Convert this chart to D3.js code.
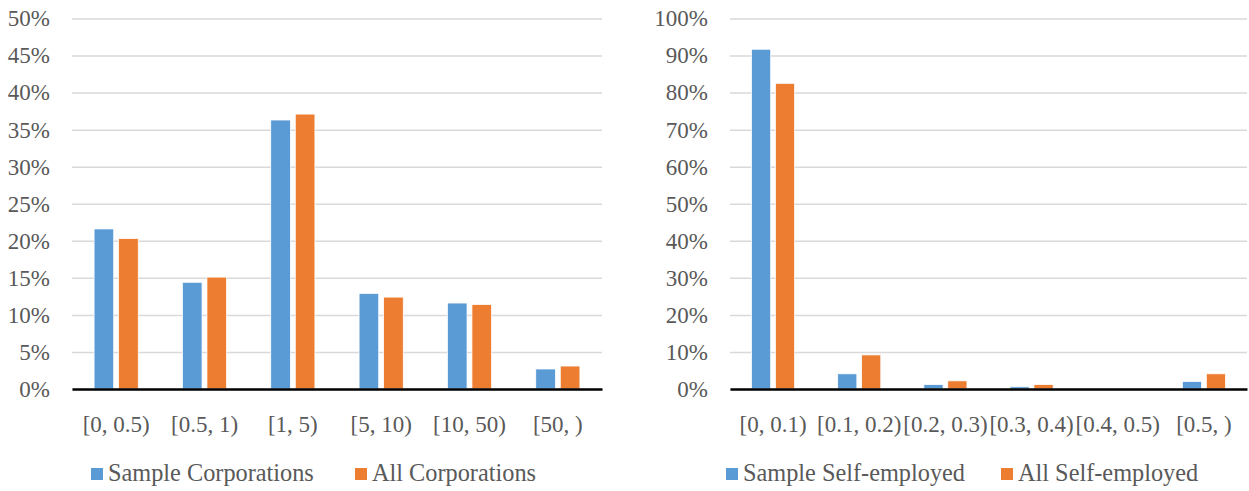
<!DOCTYPE html>
<html>
<head>
<meta charset="utf-8">
<script src="https://cdn.jsdelivr.net/npm/d3@7"></script>
<style>
  body { margin: 0; background: #fff; }
  text { font-family: "Liberation Serif", "DejaVu Serif", serif; fill: #595959; }
</style>
</head>
<body>
<svg id="chart" width="1249" height="491"></svg>
<script>
// Chart data
var corpCategories = ['[0, 0.5)', '[0.5, 1)', '[1, 5)', '[5, 10)', '[10, 50)', '[50, )'];
var sampleCorporations = [21.6, 14.4, 36.3, 12.9, 11.6, 2.7];
var allCorporations = [20.3, 15.1, 37.1, 12.4, 11.4, 3.1];
var corpTicks = [0, 5, 10, 15, 20, 25, 30, 35, 40, 45, 50];

var selfCategories = ['[0, 0.1)', '[0.1, 0.2)', '[0.2, 0.3)', '[0.3, 0.4)', '[0.4, 0.5)', '[0.5, )'];
var sampleSelfEmployed = [91.7, 4.1, 1.2, 0.6, 0, 2.0];
var allSelfEmployed = [82.5, 9.2, 2.2, 1.2, 0, 4.1];
var selfTicks = [0, 10, 20, 30, 40, 50, 60, 70, 80, 90, 100];

var colors = ['#5B9BD5', '#ED7D31'];
var svg = d3.select('#chart');

// draws one panel: gridlines, bars, axis line, category labels, legend
function drawPanel(opts) {
  var x0 = d3.scaleBand()
    .domain(opts.categories)
    .range([opts.left, opts.right])
    .padding(0);

  var bw = x0.bandwidth();
  var x1 = d3.scaleBand()
    .domain([0, 1])
    .range([bw * 0.25, bw * 0.75])
    .paddingInner(0.2);

  var y = d3.scaleLinear()
    .domain([0, opts.ticks[opts.ticks.length - 1]])
    .range([389, 18.5]);

  var g = svg.append('g');

  // y axis with gridlines
  var yAxis = g.append('g')
    .attr('transform', 'translate(' + opts.left + ',0)')
    .call(d3.axisLeft(y)
      .tickValues(opts.ticks)
      .tickSize(-(opts.right - opts.left))
      .tickPadding(22)
      .tickFormat(function (d) { return d + '%'; }));
  yAxis.select('.domain').remove();
  yAxis.selectAll('line').attr('stroke', '#D9D9D9').attr('stroke-width', 1.5);
  yAxis.selectAll('text')
    .attr('font-size', 23)
    .attr('fill', '#595959')
    .style('font-family', '"Liberation Serif", serif');

  // bars
  var series = [opts.a, opts.b];
  series.forEach(function (vals, si) {
    g.append('g').selectAll('rect')
      .data(vals)
      .join('rect')
      .attr('x', function (d, i) { return x0(opts.categories[i]) + x1(si); })
      .attr('width', x1.bandwidth())
      .attr('y', function (d) { return y(d); })
      .attr('height', function (d) { return y(0) - y(d); })
      .attr('fill', colors[si])
      .attr('stroke', '#fff')
      .attr('stroke-width', 0.75);
  });

  // x axis
  var xAxis = g.append('g')
    .attr('transform', 'translate(0,' + y(0) + ')')
    .call(d3.axisBottom(x0).tickSize(0).tickSizeOuter(0));
  xAxis.select('.domain').attr('stroke', '#000').attr('stroke-width', 2.5);
  xAxis.selectAll('text')
    .attr('y', 43)
    .attr('dy', 0)
    .attr('font-size', 23)
    .attr('fill', '#595959')
    .style('font-family', '"Liberation Serif", serif');

  // legend
  opts.legend.forEach(function (item, i) {
    var lg = g.append('g').attr('transform', 'translate(' + item.x + ',468)');
    lg.append('rect')
      .attr('width', 12)
      .attr('height', 12)
      .attr('fill', colors[i]);
    lg.append('text')
      .attr('x', 17)
      .attr('y', 13)
      .attr('font-size', 24.3)
      .text(item.label);
  });
}

drawPanel({
  categories: corpCategories,
  a: sampleCorporations,
  b: allCorporations,
  ticks: corpTicks,
  left: 72,
  right: 602,
  legend: [
    { x: 91, label: 'Sample Corporations' },
    { x: 355, label: 'All Corporations' }
  ]
});

drawPanel({
  categories: selfCategories,
  a: sampleSelfEmployed,
  b: allSelfEmployed,
  ticks: selfTicks,
  left: 730,
  right: 1247,
  legend: [
    { x: 726, label: 'Sample Self-employed' },
    { x: 1001, label: 'All Self-employed' }
  ]
});
</script>
</body>
</html>
